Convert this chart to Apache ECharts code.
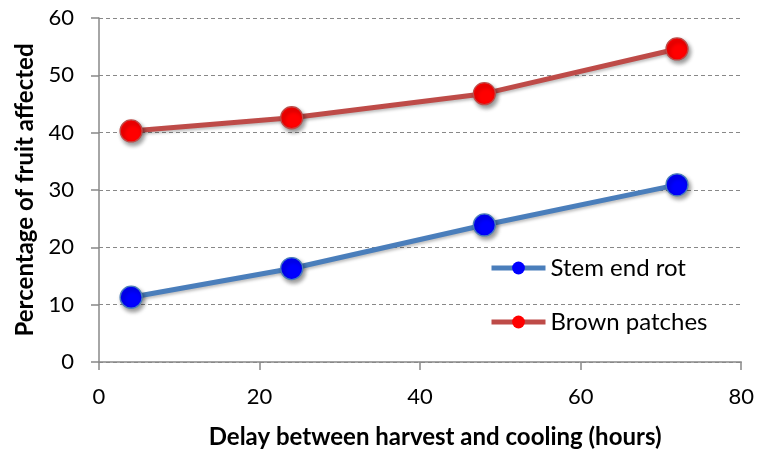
<!DOCTYPE html>
<html>
<head>
<meta charset="utf-8">
<script src="https://cdn.jsdelivr.net/npm/echarts@6/dist/echarts.min.js"></script>
<style>
  html, body { margin: 0; padding: 0; background: #ffffff; }
  #chart { width: 757px; height: 454px; }
</style>
</head>
<body>
<div id="chart"></div>
<script>
// Delay (hours) vs. percentage of fruit affected
const delayHours = [4, 24, 48, 72];
const stemEndRot = [11.3, 16.3, 23.9, 30.9];
const brownPatches = [40.3, 42.6, 46.8, 54.6];
const xTicks = { min: 0, max: 80, interval: 20 };
const yTicks = { min: 0, max: 60, interval: 10 };

const FONT = 'Lato';

function pairs(xs, ys) {
  return xs.map((x, i) => [x, ys[i]]);
}

function seriesOf(name, values, lineColor, fillColor) {
  return {
    name: name,
    type: 'line',
    data: pairs(delayHours, values),
    symbol: 'circle',
    symbolSize: 22,
    lineStyle: {
      color: lineColor, width: 5,
      shadowColor: 'rgba(0,0,0,0.25)', shadowBlur: 3, shadowOffsetX: 1, shadowOffsetY: 2
    },
    itemStyle: {
      color: fillColor, borderColor: lineColor, borderWidth: 1.3,
      shadowColor: 'rgba(0,0,0,0.4)', shadowBlur: 4, shadowOffsetX: 2, shadowOffsetY: 3
    },
    emphasis: { disabled: true },
    animation: false
  };
}

const chart = echarts.init(document.getElementById('chart'), null, { renderer: 'canvas' });
chart.setOption({
  backgroundColor: '#ffffff',
  animation: false,
  grid: { left: 99, right: 12, top: 18, bottom: 91, containLabel: false },
  legend: {
    orient: 'vertical',
    left: 489,
    top: 256,
    padding: 0,
    itemWidth: 54,
    itemHeight: 16,
    itemGap: 30,
    selectedMode: false,
    lineStyle: { width: 5, shadowBlur: 0 },
    itemStyle: { borderWidth: 0, shadowBlur: 0 },
    textStyle: { fontFamily: FONT, fontSize: 24, color: '#000' },
    data: ['Stem end rot', 'Brown patches']
  },
  xAxis: {
    type: 'value',
    min: xTicks.min, max: xTicks.max, interval: xTicks.interval,
    name: 'Delay between harvest and cooling (hours)',
    nameLocation: 'middle',
    nameGap: 63,
    nameTextStyle: { fontFamily: FONT, fontSize: 24, fontWeight: 'bold', color: '#000', padding: [0, 0, 0, 30] },
    axisLine: { show: true, lineStyle: { color: '#888888', width: 1.5 } },
    axisTick: { show: true, length: 8, lineStyle: { color: '#888888', width: 1.5 } },
    axisLabel: { fontFamily: FONT, fontSize: 22, color: '#000', margin: 24 },
    splitLine: { show: false }
  },
  yAxis: {
    type: 'value',
    min: yTicks.min, max: yTicks.max, interval: yTicks.interval,
    name: 'Percentage of fruit affected',
    nameLocation: 'middle',
    nameGap: 62,
    nameRotate: 90,
    nameTextStyle: { fontFamily: FONT, fontSize: 24, fontWeight: 'bold', color: '#000' },
    axisLine: { show: true, lineStyle: { color: '#888888', width: 1.5 } },
    axisTick: { show: true, length: 8, lineStyle: { color: '#888888', width: 1.5 } },
    axisLabel: { fontFamily: FONT, fontSize: 22, color: '#000', margin: 25 },
    splitLine: { show: true, lineStyle: { color: '#888888', width: 1.2, type: [4, 3] } }
  },
  series: [
    seriesOf('Stem end rot', stemEndRot, '#4a7ebb', '#0000ff'),
    seriesOf('Brown patches', brownPatches, '#be4b48', '#ff0000')
  ]
});
</script>
</body>
</html>
